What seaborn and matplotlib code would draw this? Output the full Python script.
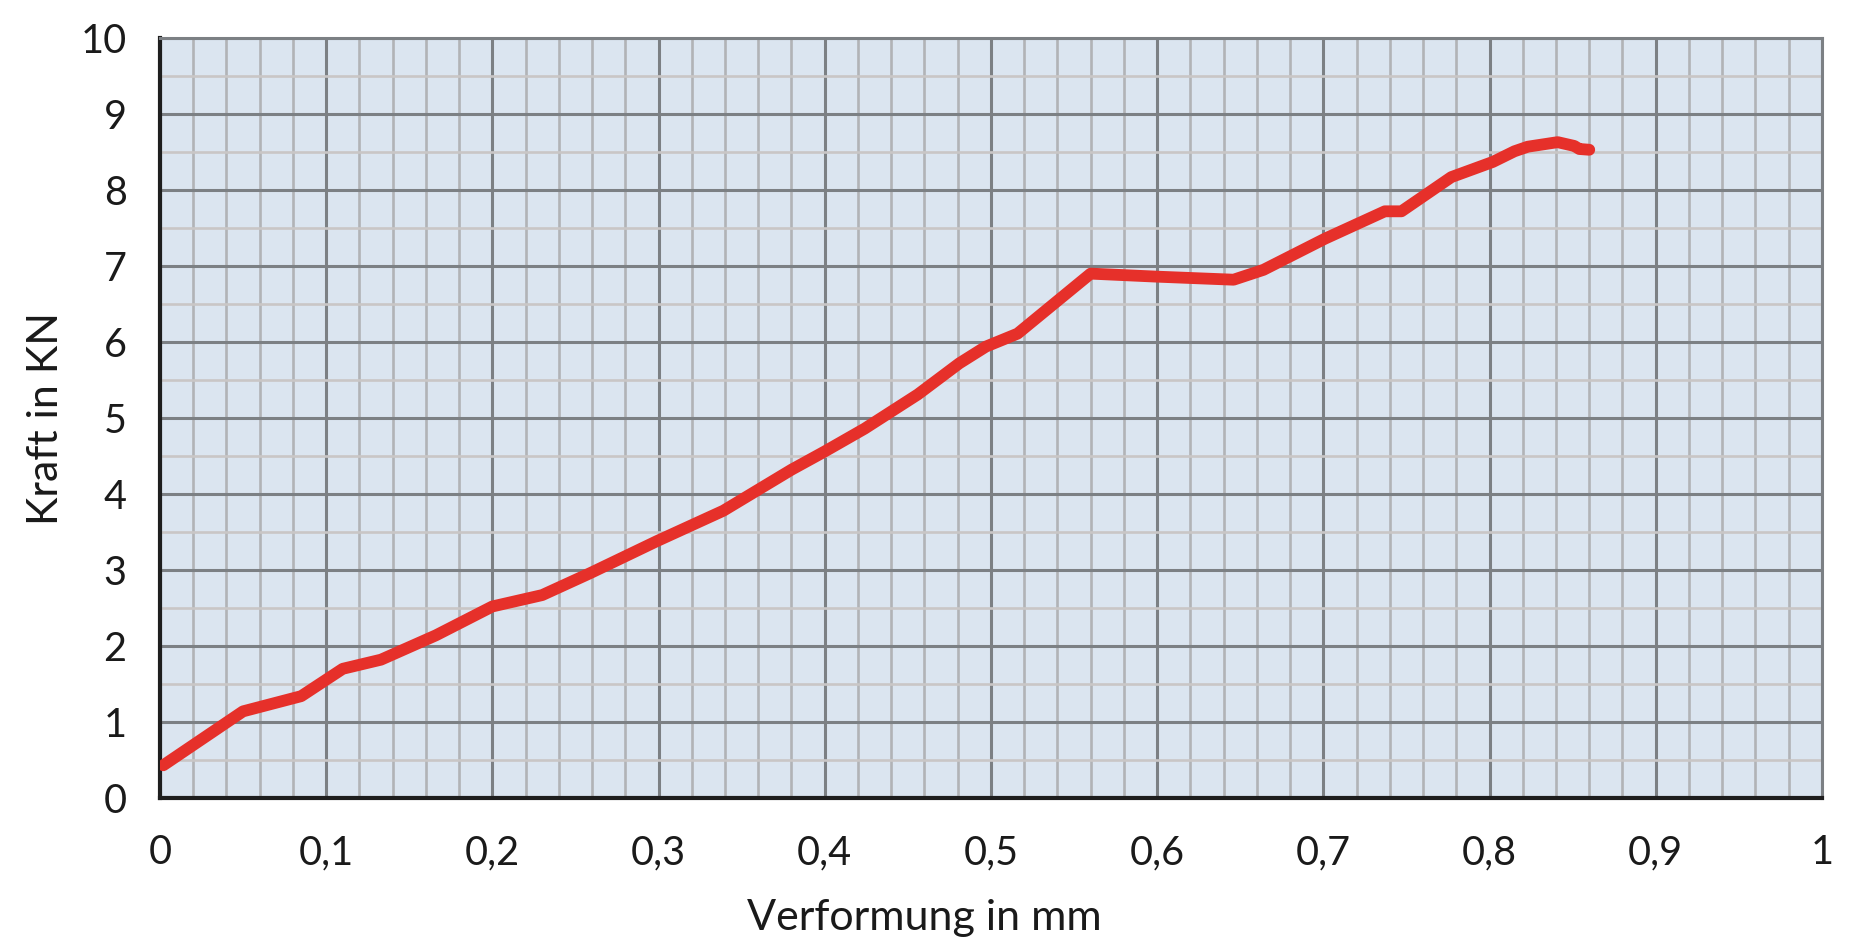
import numpy as np
import pandas as pd
import seaborn as sns
import matplotlib
matplotlib.use('Agg')
import matplotlib.pyplot as plt
from matplotlib.ticker import MultipleLocator

# Kraft-Verformung
verformung = [0.002, 0.050, 0.085, 0.110, 0.133, 0.166, 0.200, 0.230, 0.259,
              0.299, 0.339, 0.380, 0.400, 0.424, 0.456, 0.481, 0.497, 0.516,
              0.560, 0.600, 0.646, 0.664, 0.701, 0.737, 0.747, 0.777, 0.802,
              0.815, 0.823, 0.841, 0.851, 0.854, 0.860]
kraft = [0.43, 1.14, 1.34, 1.70, 1.82, 2.14, 2.52, 2.67, 2.96,
         3.38, 3.78, 4.32, 4.56, 4.86, 5.31, 5.72, 5.94, 6.11,
         6.90, 6.86, 6.82, 6.95, 7.36, 7.72, 7.72, 8.17, 8.37,
         8.51, 8.57, 8.63, 8.58, 8.54, 8.53]

x_ticks = [0, 0.1, 0.2, 0.3, 0.4, 0.5, 0.6, 0.7, 0.8, 0.9, 1.0]
x_tick_labels = ['0', '0,1', '0,2', '0,3', '0,4', '0,5', '0,6', '0,7', '0,8', '0,9', '1']
y_ticks = [0, 1, 2, 3, 4, 5, 6, 7, 8, 9, 10]
y_tick_labels = ['0', '1', '2', '3', '4', '5', '6', '7', '8', '9', '10']

df = pd.DataFrame({'Verformung': verformung, 'Kraft': kraft})

sns.set_style('white')
plt.rcParams['font.family'] = ['Lato', 'DejaVu Sans']

fig, ax = plt.subplots(figsize=(18.75, 9.51), dpi=100)
fig.subplots_adjust(left=0.0853, right=0.9717, top=0.96, bottom=0.1609)
ax.set_facecolor('#dbe5f0')

ax.xaxis.set_minor_locator(MultipleLocator(0.02))
ax.yaxis.set_minor_locator(MultipleLocator(0.5))
ax.grid(which='major', axis='both', color='#7c8084', linewidth=2.2, zorder=1)
ax.grid(which='minor', axis='x', color='#b1b3b6', linewidth=1.9, zorder=0.9)
ax.grid(which='minor', axis='y', color='#c9c6c6', linewidth=1.9, zorder=0.9)
ax.set_axisbelow(True)

sns.lineplot(data=df, x='Verformung', y='Kraft', sort=False, ax=ax,
             color='#e6302a', linewidth=8.5, solid_capstyle='round',
             solid_joinstyle='round', zorder=3)

ax.set_xlim(0, 1)
ax.set_ylim(0, 10)
ax.set_xticks(x_ticks)
ax.set_xticklabels(x_tick_labels)
ax.set_yticks(y_ticks)
ax.set_yticklabels(y_tick_labels)
ax.tick_params(which='both', length=0, labelsize=28.5, colors='#1a1a1a')
ax.tick_params(axis='x', pad=26)
ax.tick_params(axis='y', pad=24)

for side in ['top', 'right']:
    ax.spines[side].set_color('#7c8084')
    ax.spines[side].set_linewidth(2.2)
for side in ['left', 'bottom']:
    ax.spines[side].set_color('#1e1e1e')
    ax.spines[side].set_linewidth(3)

ax.set_xlabel('Verformung in mm', fontsize=31, color='#1a1a1a')
ax.set_ylabel('Kraft in KN', fontsize=31, color='#1a1a1a')
ax.xaxis.set_label_coords(0.46, -0.133)
ax.yaxis.set_label_coords(-0.057, 0.5)

fig.savefig('out.png', dpi=100)
